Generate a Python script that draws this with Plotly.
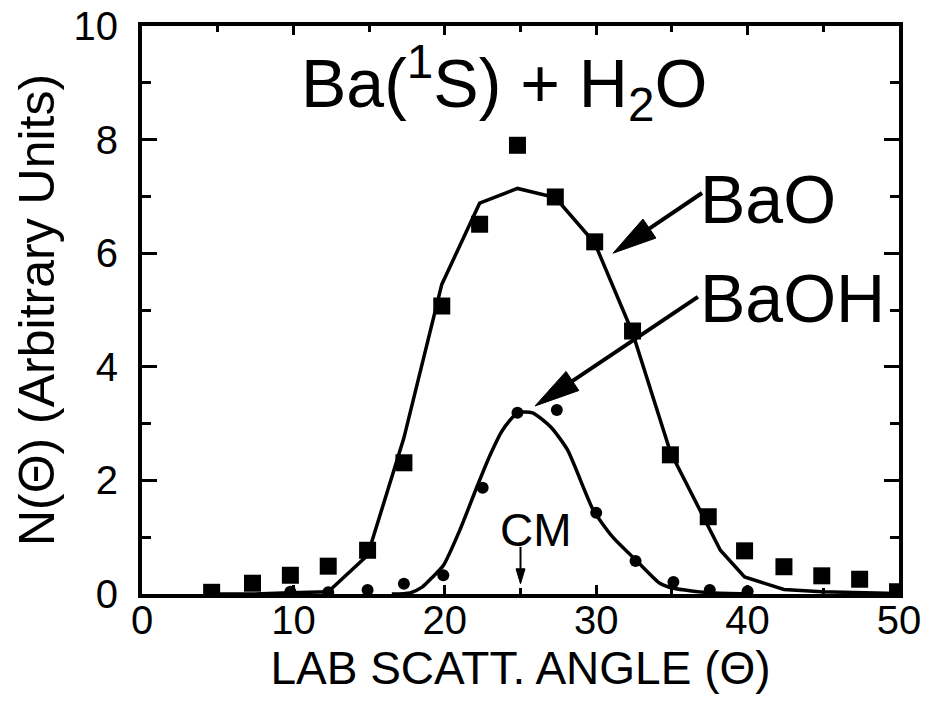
import plotly.graph_objects as go

# Laboratory angular distributions, Ba(1S) + H2O
bao_angle = [4.6, 7.3, 9.8, 12.3, 14.9, 17.3, 19.8, 22.3, 24.8, 27.3,
             29.9, 32.4, 34.9, 37.4, 39.8, 42.4, 44.9, 47.4, 49.9]
bao_signal = [0.03, 0.19, 0.33, 0.49, 0.77, 2.31, 5.07, 6.51, 7.90, 6.99,
              6.20, 4.63, 2.45, 1.36, 0.76, 0.48, 0.32, 0.26, 0.04]

baoh_angle = [9.8, 12.3, 14.9, 17.3, 19.9, 22.5, 24.8, 27.4, 30.0, 32.6,
              35.1, 37.5, 40.0]
baoh_signal = [0.04, 0.03, 0.07, 0.18, 0.33, 1.87, 3.19, 3.24, 1.43, 0.58,
               0.21, 0.07, 0.05]

# Forward-convolution fits
bao_fit_angle = [4.6, 7.3, 9.8, 12.3, 14.9, 17.3, 19.8, 22.3, 24.8, 27.3,
                 29.9, 32.4, 34.9, 37.4, 38.2, 39.8, 42.4, 44.9, 47.4, 49.9]
bao_fit_signal = [0.0, 0.0, 0.02, 0.04, 0.68, 2.75, 5.45, 6.88, 7.14, 6.98,
                  6.18, 4.60, 2.50, 1.20, 0.77, 0.30, 0.08, 0.04, 0.02, 0.01]

baoh_fit_angle = [16.5, 17.7, 18.5, 19.2, 19.9, 21.0, 22.1, 23.0, 23.8, 24.8,
                  25.8, 27.0, 28.1, 29.8, 31.1, 32.8, 34.2, 35.1, 37.6, 40.0]
baoh_fit_signal = [0.0, 0.02, 0.12, 0.30, 0.50, 1.13, 1.87, 2.45, 2.88, 3.19,
                   3.19, 2.94, 2.54, 1.48, 1.00, 0.55, 0.19, 0.10, 0.02, 0.0]

x_ticks = [0, 10, 20, 30, 40, 50]
y_ticks = [0, 2, 4, 6, 8, 10]
cm_angle = 25.0

# Figure geometry (pixels)
W, H = 934, 702
ML, MR, MT, MB = 142, 35, 26, 108
X_RANGE = (0, 50)
Y_RANGE = (0, 10)
PW, PH = W - ML - MR, H - MT - MB

FONT = "Liberation Sans, Arial, Helvetica, sans-serif"


def to_px(x, y):
    px = ML + (x - X_RANGE[0]) / (X_RANGE[1] - X_RANGE[0]) * PW
    py = MT + (Y_RANGE[1] - y) / (Y_RANGE[1] - Y_RANGE[0]) * PH
    return px, py


def to_data(px, py):
    x = X_RANGE[0] + (px - ML) / PW * (X_RANGE[1] - X_RANGE[0])
    y = Y_RANGE[1] - (py - MT) / PH * (Y_RANGE[1] - Y_RANGE[0])
    return x, y


def arrow_shapes(tail, tip, width, head_len, head_wid):
    """Shaft plus filled narrow triangular head, sized in pixels."""
    tx, ty = to_px(*tail)
    hx, hy = to_px(*tip)
    dx, dy = hx - tx, hy - ty
    n = (dx * dx + dy * dy) ** 0.5
    ux, uy = dx / n, dy / n
    bx, by = hx - ux * head_len, hy - uy * head_len
    nx, ny = -uy, ux
    p1 = to_data(bx + nx * head_wid / 2, by + ny * head_wid / 2)
    p2 = to_data(bx - nx * head_wid / 2, by - ny * head_wid / 2)
    base = to_data(bx + ux * 2, by + uy * 2)
    shaft = dict(type="line", xref="x", yref="y",
                 x0=tail[0], y0=tail[1], x1=base[0], y1=base[1],
                 line=dict(color="black", width=width))
    head = dict(type="path", xref="x", yref="y",
                path=f"M {tip[0]},{tip[1]} L {p1[0]},{p1[1]} L {p2[0]},{p2[1]} Z",
                fillcolor="black", line=dict(color="black", width=1))
    return [shaft, head]


fig = go.Figure()

fig.add_trace(go.Scatter(x=bao_fit_angle, y=bao_fit_signal, mode="lines",
                         line=dict(color="black", width=3.5),
                         showlegend=False, name="BaO fit"))
fig.add_trace(go.Scatter(x=baoh_fit_angle, y=baoh_fit_signal, mode="lines",
                         line=dict(color="black", width=3.5, shape="spline",
                                   smoothing=0.6),
                         showlegend=False, name="BaOH fit"))
fig.add_trace(go.Scatter(x=bao_angle, y=bao_signal, mode="markers",
                         marker=dict(symbol="square", size=17, color="black"),
                         showlegend=False, name="BaO"))
fig.add_trace(go.Scatter(x=baoh_angle, y=baoh_signal, mode="markers",
                         marker=dict(symbol="circle", size=12, color="black"),
                         showlegend=False, name="BaOH"))

shapes = []
shapes += arrow_shapes((36.99, 7.06), (31.11, 6.0), 4, 44, 23)
shapes += arrow_shapes((36.72, 5.23), (25.96, 3.31), 4, 45, 23)
shapes += arrow_shapes((cm_angle, 0.83), (cm_angle, 0.18), 2, 15, 9)

annotations = [
    dict(text="Ba(<sup>1</sup>S) + H<sub>2</sub>O", x=23.9, y=9.0,
         xref="x", yref="y", showarrow=False, xanchor="center", yanchor="middle",
         font=dict(family=FONT, size=68, color="black")),
    dict(text="BaO", x=36.7, y=6.95, xref="x", yref="y", showarrow=False,
         xanchor="left", yanchor="middle",
         font=dict(family=FONT, size=68, color="black")),
    dict(text="BaOH", x=36.7, y=5.21, xref="x", yref="y", showarrow=False,
         xanchor="left", yanchor="middle",
         font=dict(family=FONT, size=68, color="black")),
    dict(text="CM", x=26.0, y=1.13, xref="x", yref="y", showarrow=False,
         xanchor="center", yanchor="middle",
         font=dict(family=FONT, size=46, color="black")),
]

fig.update_layout(
    width=W, height=H,
    margin=dict(l=ML, r=MR, t=MT, b=MB, pad=0),
    paper_bgcolor="white", plot_bgcolor="white",
    font=dict(family=FONT, color="black"),
    shapes=shapes, annotations=annotations,
    showlegend=False,
)

fig.update_xaxes(
    range=list(X_RANGE), tickvals=x_ticks, ticktext=[str(v) for v in x_ticks],
    showgrid=False, zeroline=False,
    showline=True, linecolor="black", linewidth=4, mirror="ticks",
    ticks="inside", ticklen=9, tickwidth=3, tickcolor="black",
    minor=dict(dtick=5, tick0=0, ticks="inside", ticklen=6, tickwidth=3,
               tickcolor="black", showgrid=False),
    tickfont=dict(family=FONT, size=40, color="black"),
    ticklabelstandoff=-12,
    title=dict(text="LAB SCATT. ANGLE (Θ)", standoff=2,
               font=dict(family=FONT, size=46, color="black")),
    automargin=False,
)
fig.update_yaxes(
    range=list(Y_RANGE), tickvals=y_ticks, ticktext=[str(v) for v in y_ticks],
    showgrid=False, zeroline=False,
    showline=True, linecolor="black", linewidth=4, mirror="ticks",
    ticks="inside", ticklen=15, tickwidth=3, tickcolor="black",
    minor=dict(dtick=1, tick0=0, ticks="inside", ticklen=9, tickwidth=3,
               tickcolor="black", showgrid=False),
    tickfont=dict(family=FONT, size=40, color="black"),
    ticklabelstandoff=12,
    title=dict(text="N(Θ) (Arbitrary Units)", standoff=4,
               font=dict(family=FONT, size=50, color="black")),
    automargin=False,
)

fig.write_html("out.html")
